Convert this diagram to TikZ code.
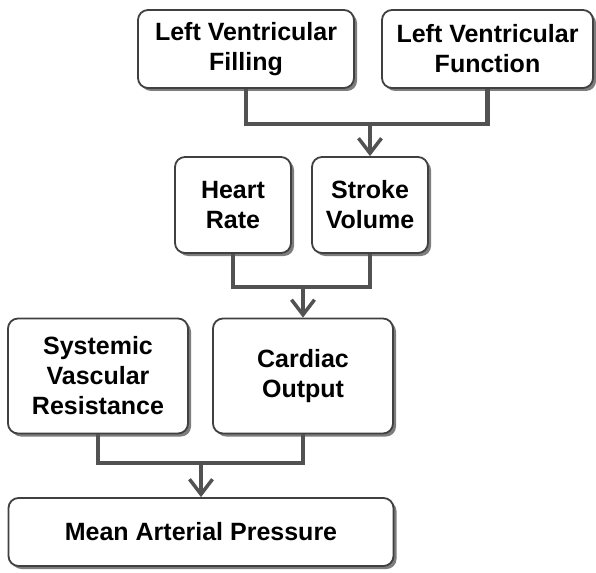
\documentclass[tikz,border=0pt]{standalone}
\usepackage{fontspec}
\setmainfont{Liberation Sans}
\usetikzlibrary{arrows.meta,shadows}

\tikzset{
  box/.style={draw=black!75,line width=1.8pt,rounded corners=10pt,fill=white,
    align=center,font=\fontsize{25}{30}\selectfont\bfseries,inner sep=0pt,
    drop shadow={shadow xshift=3pt,shadow yshift=-3pt,fill=black!60,opacity=0.85}},
  link/.style={draw=black!68,line width=4.5pt},
  feed/.style={link,-{Straight Barb[length=15pt,width=23pt,line width=3.5pt]}}
}

\begin{document}
\begin{tikzpicture}[x=1pt,y=-1pt]
  \useasboundingbox (0,0) rectangle (596,572);

  \node[box,minimum width=216pt,minimum height=78pt] (fill) at (246,49) {Left Ventricular\\Filling};
  \node[box,minimum width=211pt,minimum height=78pt] (func) at (487.5,49) {Left Ventricular\\Function};

  \node[box,minimum width=116pt,minimum height=96pt] (hr) at (233,205) {Heart\\Rate};
  \node[box,minimum width=116pt,minimum height=96pt] (sv) at (370,205) {Stroke\\Volume};

  \node[box,minimum width=180pt,minimum height=115pt] (svr) at (98,376) {Systemic\\Vascular\\Resistance};
  \node[box,minimum width=180pt,minimum height=115pt] (co) at (303,376) {Cardiac\\Output};

  \node[box,minimum width=385pt,minimum height=68pt] (map) at (201,532) {Mean Arterial Pressure};

  % joins
  \coordinate (j1) at (sv |- 0,124);
  \coordinate (j2) at (co |- 0,287);
  \coordinate (j3) at (map |- 0,463);

  \draw[link] (fill) |- (j1) -| (func);
  \draw[feed] (j1) -- (sv);

  \draw[link] (hr) |- (j2) -| (sv);
  \draw[feed] (j2) -- (co);

  \draw[link] (svr) |- (j3) -| (co);
  \draw[feed] (j3) -- (map);
\end{tikzpicture}
\end{document}
